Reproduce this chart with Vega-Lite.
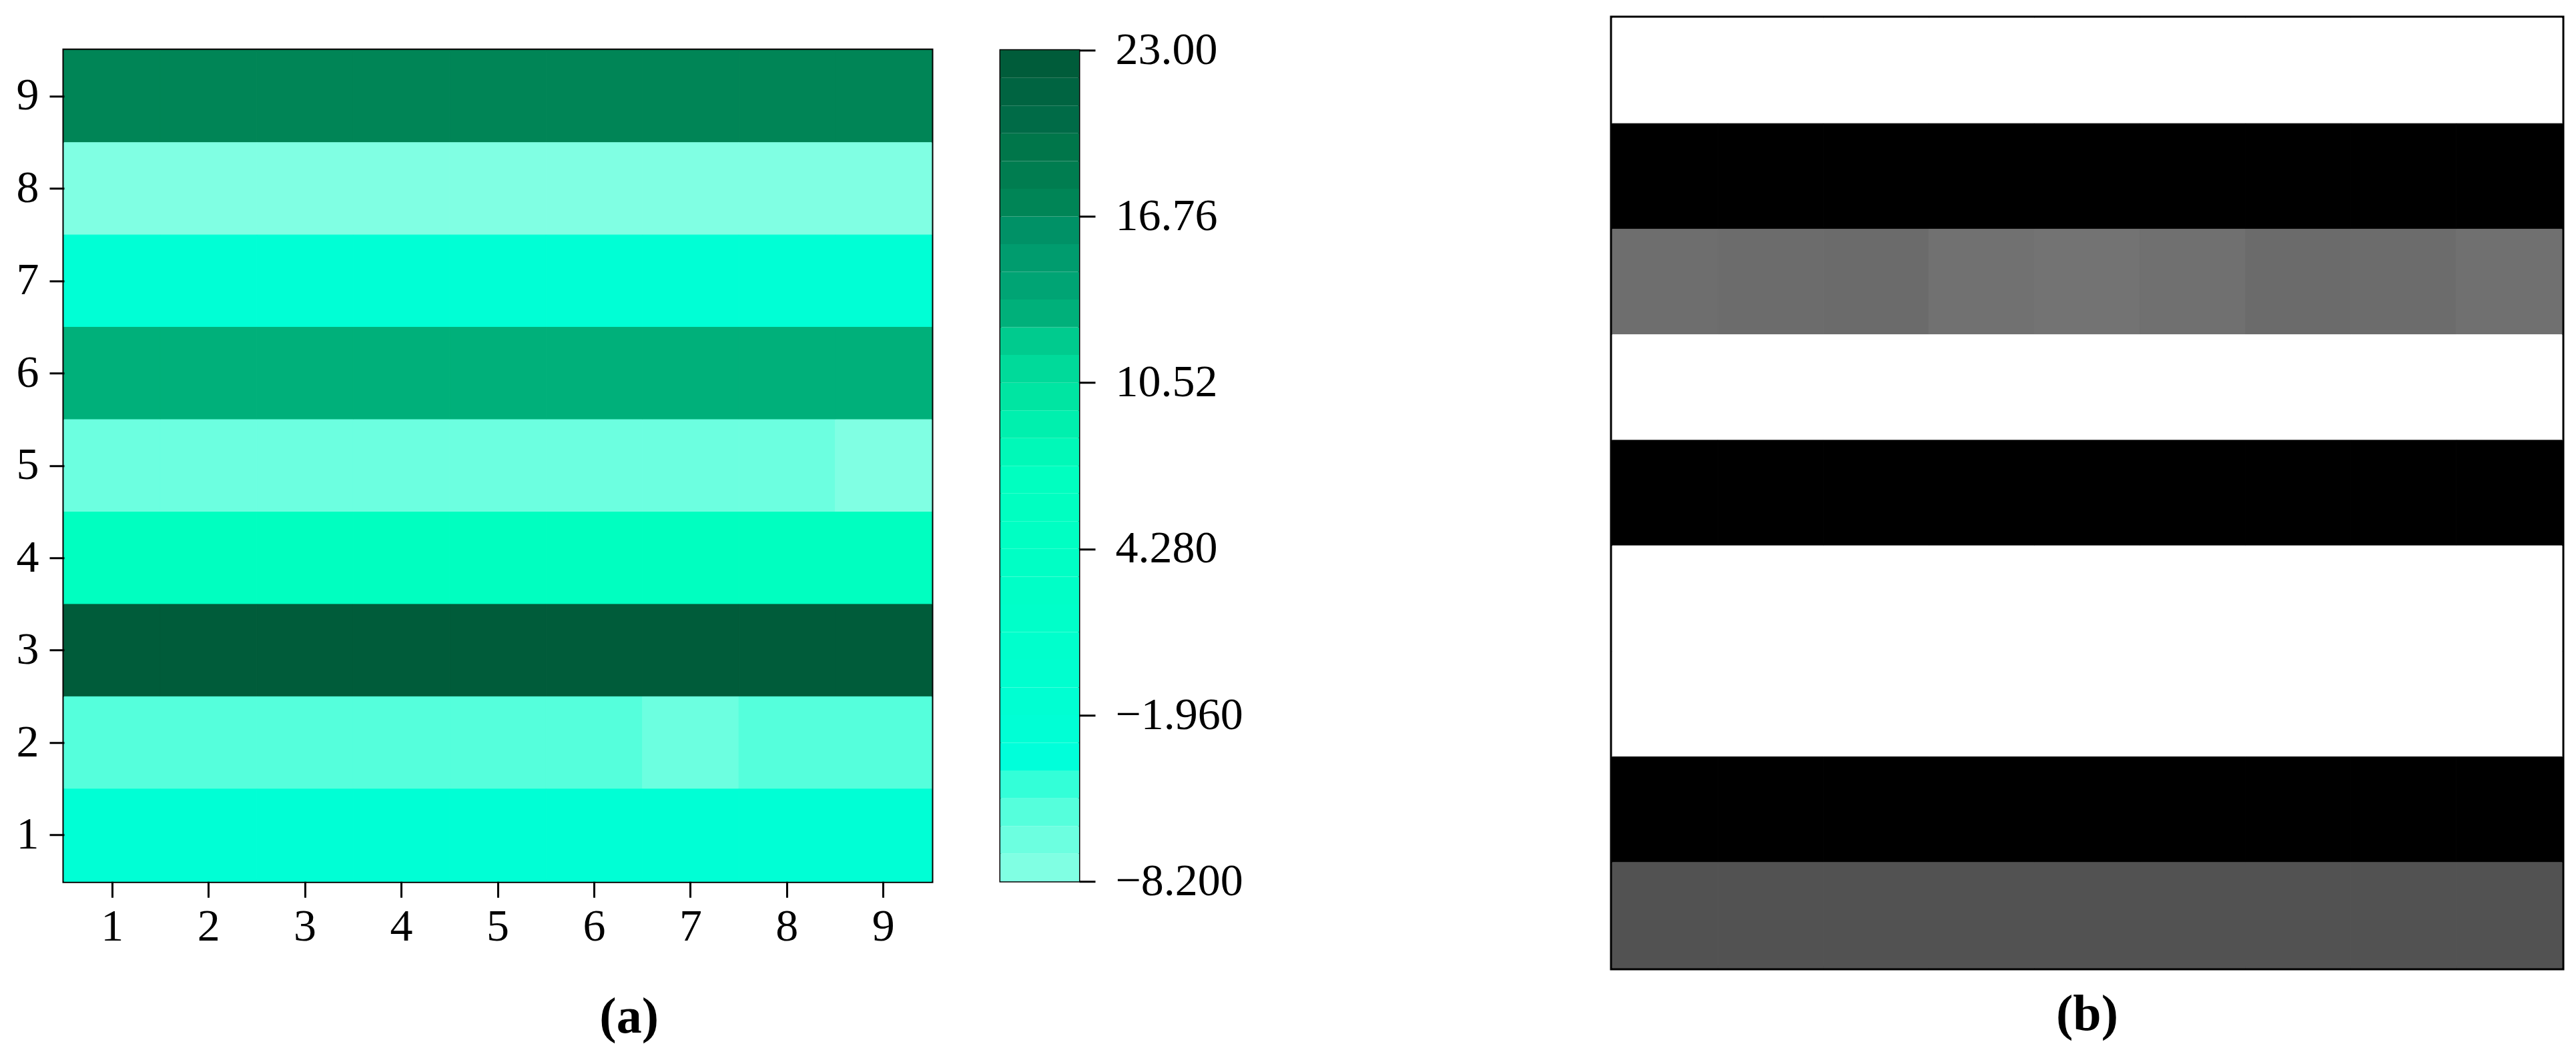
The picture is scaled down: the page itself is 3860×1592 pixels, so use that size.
{
  "$schema": "https://vega.github.io/schema/vega-lite/v6.json",
  "background": "white",
  "padding": {"left": 21, "top": 23, "right": 0, "bottom": 0},
  "config": {
    "font": "Liberation Serif",
    "axis": {"labelFont": "Liberation Serif", "labelColor": "black", "tickColor": "black", "titleFont": "Liberation Serif", "labelLimit": 0},
    "title": {"font": "Liberation Serif", "color": "black"}
  },
  "datasets": {
    "heat": [
      {"r": 9, "c": 1, "v": 17.3}, {"r": 9, "c": 2, "v": 17.3}, {"r": 9, "c": 3, "v": 17.3}, {"r": 9, "c": 4, "v": 17.3}, {"r": 9, "c": 5, "v": 17.3}, {"r": 9, "c": 6, "v": 17.3}, {"r": 9, "c": 7, "v": 17.3}, {"r": 9, "c": 8, "v": 17.3}, {"r": 9, "c": 9, "v": 17.3},
      {"r": 8, "c": 1, "v": -7.8}, {"r": 8, "c": 2, "v": -7.8}, {"r": 8, "c": 3, "v": -7.8}, {"r": 8, "c": 4, "v": -7.8}, {"r": 8, "c": 5, "v": -7.8}, {"r": 8, "c": 6, "v": -7.8}, {"r": 8, "c": 7, "v": -7.8}, {"r": 8, "c": 8, "v": -7.8}, {"r": 8, "c": 9, "v": -7.8},
      {"r": 7, "c": 1, "v": -2.5}, {"r": 7, "c": 2, "v": -2.5}, {"r": 7, "c": 3, "v": -2.5}, {"r": 7, "c": 4, "v": -2.5}, {"r": 7, "c": 5, "v": -2.5}, {"r": 7, "c": 6, "v": -2.5}, {"r": 7, "c": 7, "v": -2.5}, {"r": 7, "c": 8, "v": -2.5}, {"r": 7, "c": 9, "v": -2.5},
      {"r": 6, "c": 1, "v": 13.1}, {"r": 6, "c": 2, "v": 13.1}, {"r": 6, "c": 3, "v": 13.1}, {"r": 6, "c": 4, "v": 13.1}, {"r": 6, "c": 5, "v": 13.1}, {"r": 6, "c": 6, "v": 13.1}, {"r": 6, "c": 7, "v": 13.1}, {"r": 6, "c": 8, "v": 13.1}, {"r": 6, "c": 9, "v": 13.1},
      {"r": 5, "c": 1, "v": -6.6}, {"r": 5, "c": 2, "v": -6.6}, {"r": 5, "c": 3, "v": -6.6}, {"r": 5, "c": 4, "v": -6.6}, {"r": 5, "c": 5, "v": -6.6}, {"r": 5, "c": 6, "v": -6.6}, {"r": 5, "c": 7, "v": -6.6}, {"r": 5, "c": 8, "v": -6.6}, {"r": 5, "c": 9, "v": -7.7},
      {"r": 4, "c": 1, "v": 6.9}, {"r": 4, "c": 2, "v": 6.9}, {"r": 4, "c": 3, "v": 6.9}, {"r": 4, "c": 4, "v": 6.9}, {"r": 4, "c": 5, "v": 6.9}, {"r": 4, "c": 6, "v": 6.9}, {"r": 4, "c": 7, "v": 6.9}, {"r": 4, "c": 8, "v": 6.9}, {"r": 4, "c": 9, "v": 6.9},
      {"r": 3, "c": 1, "v": 22.5}, {"r": 3, "c": 2, "v": 22.5}, {"r": 3, "c": 3, "v": 22.5}, {"r": 3, "c": 4, "v": 22.5}, {"r": 3, "c": 5, "v": 22.5}, {"r": 3, "c": 6, "v": 22.5}, {"r": 3, "c": 7, "v": 22.5}, {"r": 3, "c": 8, "v": 22.5}, {"r": 3, "c": 9, "v": 22.5},
      {"r": 2, "c": 1, "v": -5.6}, {"r": 2, "c": 2, "v": -5.6}, {"r": 2, "c": 3, "v": -5.6}, {"r": 2, "c": 4, "v": -5.6}, {"r": 2, "c": 5, "v": -5.6}, {"r": 2, "c": 6, "v": -5.6}, {"r": 2, "c": 7, "v": -6.6}, {"r": 2, "c": 8, "v": -5.6}, {"r": 2, "c": 9, "v": -5.6},
      {"r": 1, "c": 1, "v": -2.5}, {"r": 1, "c": 2, "v": -2.5}, {"r": 1, "c": 3, "v": -2.5}, {"r": 1, "c": 4, "v": -2.5}, {"r": 1, "c": 5, "v": -2.5}, {"r": 1, "c": 6, "v": -2.5}, {"r": 1, "c": 7, "v": -2.5}, {"r": 1, "c": 8, "v": -2.5}, {"r": 1, "c": 9, "v": -2.5}
    ],
    "bar": [
      {"lo": -8.2, "hi": -7.16, "m": -7.68}, {"lo": -7.16, "hi": -6.12, "m": -6.64}, {"lo": -6.12, "hi": -5.08, "m": -5.6}, {"lo": -5.08, "hi": -4.04, "m": -4.56},
      {"lo": -4.04, "hi": -3.0, "m": -3.52}, {"lo": -3.0, "hi": -1.96, "m": -2.48}, {"lo": -1.96, "hi": -0.92, "m": -1.44}, {"lo": -0.92, "hi": 0.12, "m": -0.4},
      {"lo": 0.12, "hi": 1.16, "m": 0.64}, {"lo": 1.16, "hi": 2.2, "m": 1.68}, {"lo": 2.2, "hi": 3.24, "m": 2.72}, {"lo": 3.24, "hi": 4.28, "m": 3.76},
      {"lo": 4.28, "hi": 5.32, "m": 4.8}, {"lo": 5.32, "hi": 6.36, "m": 5.84}, {"lo": 6.36, "hi": 7.4, "m": 6.88}, {"lo": 7.4, "hi": 8.44, "m": 7.92},
      {"lo": 8.44, "hi": 9.48, "m": 8.96}, {"lo": 9.48, "hi": 10.52, "m": 10.0}, {"lo": 10.52, "hi": 11.56, "m": 11.04}, {"lo": 11.56, "hi": 12.6, "m": 12.08},
      {"lo": 12.6, "hi": 13.64, "m": 13.12}, {"lo": 13.64, "hi": 14.68, "m": 14.16}, {"lo": 14.68, "hi": 15.72, "m": 15.2}, {"lo": 15.72, "hi": 16.76, "m": 16.24},
      {"lo": 16.76, "hi": 17.8, "m": 17.28}, {"lo": 17.8, "hi": 18.84, "m": 18.32}, {"lo": 18.84, "hi": 19.88, "m": 19.36}, {"lo": 19.88, "hi": 20.92, "m": 20.4},
      {"lo": 20.92, "hi": 21.96, "m": 21.44}, {"lo": 21.96, "hi": 23.0, "m": 22.48}
    ],
    "gray": [
      {"r": 9, "c": 1, "g": 255}, {"r": 9, "c": 2, "g": 255}, {"r": 9, "c": 3, "g": 255}, {"r": 9, "c": 4, "g": 255}, {"r": 9, "c": 5, "g": 255}, {"r": 9, "c": 6, "g": 255}, {"r": 9, "c": 7, "g": 255}, {"r": 9, "c": 8, "g": 255}, {"r": 9, "c": 9, "g": 255},
      {"r": 8, "c": 1, "g": 0}, {"r": 8, "c": 2, "g": 0}, {"r": 8, "c": 3, "g": 0}, {"r": 8, "c": 4, "g": 0}, {"r": 8, "c": 5, "g": 0}, {"r": 8, "c": 6, "g": 0}, {"r": 8, "c": 7, "g": 0}, {"r": 8, "c": 8, "g": 0}, {"r": 8, "c": 9, "g": 0},
      {"r": 7, "c": 1, "g": 110}, {"r": 7, "c": 2, "g": 108}, {"r": 7, "c": 3, "g": 107}, {"r": 7, "c": 4, "g": 113}, {"r": 7, "c": 5, "g": 115}, {"r": 7, "c": 6, "g": 112}, {"r": 7, "c": 7, "g": 107}, {"r": 7, "c": 8, "g": 108}, {"r": 7, "c": 9, "g": 112},
      {"r": 6, "c": 1, "g": 255}, {"r": 6, "c": 2, "g": 255}, {"r": 6, "c": 3, "g": 255}, {"r": 6, "c": 4, "g": 255}, {"r": 6, "c": 5, "g": 255}, {"r": 6, "c": 6, "g": 255}, {"r": 6, "c": 7, "g": 255}, {"r": 6, "c": 8, "g": 255}, {"r": 6, "c": 9, "g": 255},
      {"r": 5, "c": 1, "g": 0}, {"r": 5, "c": 2, "g": 0}, {"r": 5, "c": 3, "g": 0}, {"r": 5, "c": 4, "g": 0}, {"r": 5, "c": 5, "g": 0}, {"r": 5, "c": 6, "g": 0}, {"r": 5, "c": 7, "g": 0}, {"r": 5, "c": 8, "g": 0}, {"r": 5, "c": 9, "g": 0},
      {"r": 4, "c": 1, "g": 255}, {"r": 4, "c": 2, "g": 255}, {"r": 4, "c": 3, "g": 255}, {"r": 4, "c": 4, "g": 255}, {"r": 4, "c": 5, "g": 255}, {"r": 4, "c": 6, "g": 255}, {"r": 4, "c": 7, "g": 255}, {"r": 4, "c": 8, "g": 255}, {"r": 4, "c": 9, "g": 255},
      {"r": 3, "c": 1, "g": 255}, {"r": 3, "c": 2, "g": 255}, {"r": 3, "c": 3, "g": 255}, {"r": 3, "c": 4, "g": 255}, {"r": 3, "c": 5, "g": 255}, {"r": 3, "c": 6, "g": 255}, {"r": 3, "c": 7, "g": 255}, {"r": 3, "c": 8, "g": 255}, {"r": 3, "c": 9, "g": 255},
      {"r": 2, "c": 1, "g": 0}, {"r": 2, "c": 2, "g": 0}, {"r": 2, "c": 3, "g": 0}, {"r": 2, "c": 4, "g": 0}, {"r": 2, "c": 5, "g": 0}, {"r": 2, "c": 6, "g": 0}, {"r": 2, "c": 7, "g": 0}, {"r": 2, "c": 8, "g": 0}, {"r": 2, "c": 9, "g": 0},
      {"r": 1, "c": 1, "g": 82}, {"r": 1, "c": 2, "g": 82}, {"r": 1, "c": 3, "g": 82}, {"r": 1, "c": 4, "g": 82}, {"r": 1, "c": 5, "g": 82}, {"r": 1, "c": 6, "g": 82}, {"r": 1, "c": 7, "g": 82}, {"r": 1, "c": 8, "g": 82}, {"r": 1, "c": 9, "g": 82}
    ]
  },
  "resolve": {"scale": {"color": "independent", "stroke": "independent"}},
  "spacing": 548,
  "center": true,
  "hconcat": [
    {
      "title": {"text": "(a)", "orient": "bottom", "anchor": "middle", "fontSize": 76, "fontWeight": "bold", "offset": 62},
      "resolve": {"scale": {"color": "independent", "stroke": "independent"}},
      "spacing": 98,
      "bounds": "full",
      "hconcat": [
        {
          "width": 1300,
          "height": 1246,
          "view": {"stroke": "black", "strokeWidth": 5},
          "data": {"name": "heat"},
          "mark": {"type": "rect", "strokeWidth": 1},
          "encoding": {
            "x": {"field": "c", "type": "ordinal", "axis": {"labelAngle": 0, "domain": false, "tickSize": 24, "tickWidth": 3, "labelFontSize": 68, "labelPadding": 10, "title": null}},
            "y": {"field": "r", "type": "ordinal", "sort": "descending", "axis": {"domain": false, "tickSize": 22, "tickWidth": 3, "labelFontSize": 68, "labelPadding": 16, "title": null}},
            "color": {
              "field": "v", "type": "quantitative", "legend": null,
              "scale": {
                "type": "threshold",
                "domain": [-7.16, -6.12, -5.08, -4.04, -3.0, -1.96, -0.92, 0.12, 1.16, 2.2, 3.24, 4.28, 5.32, 6.36, 7.4, 8.44, 9.48, 10.52, 11.56, 12.6, 13.64, 14.68, 15.72, 16.76, 17.8, 18.84, 19.88, 20.92, 21.96],
                "range": ["#80FFE3", "#6CFFE0", "#55FFDC", "#33FFD8", "#00FFDA", "#00FFD5", "#00FFD2", "#00FFCF", "#00FFCC", "#00FFC9", "#00FFC7", "#00FFC5", "#00FFC3", "#00FFC1", "#00FFC0", "#00F9B8", "#00F0AE", "#00E5A2", "#00DA9A", "#00CB8E", "#00B07A", "#00A474", "#009C6E", "#009166", "#008556", "#007D50", "#00764A", "#006B47", "#006441", "#005C3A"]
              }
            },
            "stroke": {
              "field": "v", "type": "quantitative", "legend": null,
              "scale": {
                "type": "threshold",
                "domain": [-7.16, -6.12, -5.08, -4.04, -3.0, -1.96, -0.92, 0.12, 1.16, 2.2, 3.24, 4.28, 5.32, 6.36, 7.4, 8.44, 9.48, 10.52, 11.56, 12.6, 13.64, 14.68, 15.72, 16.76, 17.8, 18.84, 19.88, 20.92, 21.96],
                "range": ["#80FFE3", "#6CFFE0", "#55FFDC", "#33FFD8", "#00FFDA", "#00FFD5", "#00FFD2", "#00FFCF", "#00FFCC", "#00FFC9", "#00FFC7", "#00FFC5", "#00FFC3", "#00FFC1", "#00FFC0", "#00F9B8", "#00F0AE", "#00E5A2", "#00DA9A", "#00CB8E", "#00B07A", "#00A474", "#009C6E", "#009166", "#008556", "#007D50", "#00764A", "#006B47", "#006441", "#005C3A"]
              }
            }
          }
        },
        {
          "width": 118,
          "height": 1246,
          "view": {"stroke": "black", "strokeWidth": 3},
          "data": {"name": "bar"},
          "mark": {"type": "rect"},
          "encoding": {
            "x": {"value": 0},
            "x2": {"value": "width"},
            "y": {"field": "lo", "type": "quantitative", "scale": {"domain": [-8.2, 23], "nice": false, "zero": false},
              "axis": {"orient": "right", "values": [-8.2, -1.96, 4.28, 10.52, 16.76, 23], "format": ".4r", "domain": false, "grid": false, "tickSize": 24, "tickWidth": 3, "labelFontSize": 68, "labelPadding": 30, "labelFlush": false, "labelOverlap": false, "title": null}},
            "y2": {"field": "hi"},
            "color": {
              "field": "m", "type": "quantitative", "legend": null,
              "scale": {
                "type": "threshold",
                "domain": [-7.16, -6.12, -5.08, -4.04, -3.0, -1.96, -0.92, 0.12, 1.16, 2.2, 3.24, 4.28, 5.32, 6.36, 7.4, 8.44, 9.48, 10.52, 11.56, 12.6, 13.64, 14.68, 15.72, 16.76, 17.8, 18.84, 19.88, 20.92, 21.96],
                "range": ["#80FFE3", "#6CFFE0", "#55FFDC", "#33FFD8", "#00FFDA", "#00FFD5", "#00FFD2", "#00FFCF", "#00FFCC", "#00FFC9", "#00FFC7", "#00FFC5", "#00FFC3", "#00FFC1", "#00FFC0", "#00F9B8", "#00F0AE", "#00E5A2", "#00DA9A", "#00CB8E", "#00B07A", "#00A474", "#009C6E", "#009166", "#008556", "#007D50", "#00764A", "#006B47", "#006441", "#005C3A"]
              }
            }
          }
        }
      ]
    },
    {
      "width": 1423,
      "height": 1424,
      "title": {"text": ["(b)", " "], "orient": "bottom", "anchor": "middle", "fontSize": 76, "lineHeight": 49, "fontWeight": "bold", "offset": 32},
      "view": {"stroke": "black", "strokeWidth": 7},
      "data": {"name": "gray"},
      "mark": {"type": "rect", "strokeWidth": 1},
      "encoding": {
        "x": {"field": "c", "type": "ordinal", "axis": null},
        "y": {"field": "r", "type": "ordinal", "sort": "descending", "axis": null},
        "color": {"field": "g", "type": "quantitative", "legend": null, "scale": {"type": "linear", "domain": [0, 255], "range": ["#000000", "#ffffff"], "interpolate": "rgb"}},
        "stroke": {"field": "g", "type": "quantitative", "legend": null, "scale": {"type": "linear", "domain": [0, 255], "range": ["#000000", "#ffffff"], "interpolate": "rgb"}}
      }
    }
  ]
}
